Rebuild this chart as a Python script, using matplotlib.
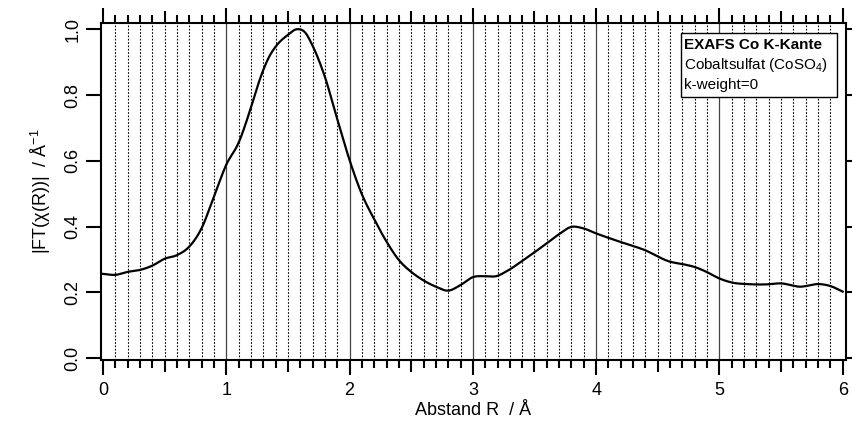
import numpy as np
import matplotlib.pyplot as plt
from matplotlib.patches import Rectangle
from matplotlib.ticker import MultipleLocator, FixedLocator

plt.rcParams['font.family'] = ['Liberation Sans', 'DejaVu Sans']
plt.rcParams['mathtext.fontset'] = 'custom'
plt.rcParams['mathtext.rm'] = 'Liberation Sans'
plt.rcParams['mathtext.it'] = 'Liberation Sans:italic'

# Data
R = [0.0, 0.1, 0.2, 0.3, 0.4, 0.5, 0.6, 0.7, 0.8, 0.9, 1.0, 1.1, 1.2, 1.25,
     1.3, 1.35, 1.4, 1.5, 1.57, 1.64, 1.7, 1.8, 1.9, 2.0, 2.1, 2.2, 2.3,
     2.4, 2.5, 2.6, 2.7, 2.8, 2.9, 3.0, 3.1, 3.19, 3.27, 3.41, 3.6, 3.7,
     3.8, 3.89, 4.0, 4.19, 4.39, 4.6, 4.71, 4.79, 4.89, 5.0, 5.11, 5.22,
     5.38, 5.5, 5.65, 5.81, 5.9, 6.0]
FT = [0.256, 0.253, 0.262, 0.268, 0.281, 0.302, 0.313, 0.339, 0.395, 0.491,
      0.588, 0.655, 0.762, 0.823, 0.876, 0.918, 0.947, 0.983, 1.000, 0.990,
      0.950, 0.855, 0.727, 0.602, 0.498, 0.422, 0.354, 0.298, 0.262, 0.236,
      0.217, 0.205, 0.222, 0.246, 0.249, 0.249, 0.263, 0.298, 0.349, 0.377,
      0.399, 0.395, 0.379, 0.354, 0.329, 0.293, 0.285, 0.278, 0.263, 0.242,
      0.229, 0.225, 0.224, 0.227, 0.217, 0.225, 0.219, 0.202]

legend_lines = ["EXAFS Co K-Kante", "Cobaltsulfat (CoSO$_4$)", "k-weight=0"]


def hermite(x, y, xs):
    # cubic Hermite through the read points, smooth drawing only
    x = np.asarray(x, float)
    y = np.asarray(y, float)
    m = np.gradient(y, x)
    i = np.clip(np.searchsorted(x, xs) - 1, 0, len(x) - 2)
    h = x[i + 1] - x[i]
    t = (xs - x[i]) / h
    h00 = 2 * t**3 - 3 * t**2 + 1
    h10 = t**3 - 2 * t**2 + t
    h01 = -2 * t**3 + 3 * t**2
    h11 = t**3 - t**2
    return h00 * y[i] + h10 * h * m[i] + h01 * y[i + 1] + h11 * h * m[i + 1]


xs = np.linspace(0, 6, 1201)
ys = hermite(R, FT, xs)

fig = plt.figure(figsize=(8.53, 4.34), dpi=100)
ax = fig.add_axes([0.118, 0.1705, 0.8734, 0.7772])

ax.set_xlim(-0.019, 6.024)
ax.set_ylim(-0.006, 1.02)

# vertical grid lines
for v in np.arange(0.1, 6.0, 0.1):
    if abs(v - round(v)) < 1e-6:
        ax.axvline(v, color='#444444', lw=0.9, zorder=1)
    else:
        ax.axvline(v, color='black', lw=0.8, ls=(0, (1.5, 1.5)), zorder=1)

ax.plot(xs, ys, color='black', lw=1.6, zorder=3)

for s in ax.spines.values():
    s.set_linewidth(1.5)

ax.xaxis.set_major_locator(MultipleLocator(1))
ax.xaxis.set_minor_locator(FixedLocator([v for v in np.arange(0, 6.01, 0.1)
                                         if abs(v * 2 - round(v * 2)) > 1e-6]))
ax.tick_params(axis='x', which='major', direction='out', length=11, width=1.5,
               top=True, labelsize=13, pad=5)
ax.tick_params(axis='x', which='minor', direction='out', length=6, width=1.5, top=True)
ax.tick_params(axis='y', which='major', direction='out', length=11, width=1.5,
               right=True, labelsize=13, pad=3)
ax.set_yticks([0.0, 0.2, 0.4, 0.6, 0.8, 1.0])
ax.set_yticklabels(['0.0', '0.2', '0.4', '0.6', '0.8', '1.0'], rotation=90, va='center')

# half-unit ticks (medium length) on top and bottom
for side in ['bottom', 'top']:
    sec = ax.secondary_xaxis(side)
    sec.set_xticks(np.arange(0.5, 6.0, 1.0))
    sec.tick_params(direction='out', length=8.5, width=1.5, labelbottom=False,
                    labeltop=False)
    sec.spines[side].set_visible(False)
    sec.set_xticklabels([])

ax.set_xlabel('Abstand R  / Å', fontsize=13, labelpad=2)
ax.set_ylabel('|FT(χ(R))|  / Å$^{-1}$', fontsize=13, labelpad=8)

# legend box
ax.add_patch(Rectangle((0.779, 0.781), 0.209, 0.189, transform=ax.transAxes,
                       facecolor='white', edgecolor='black', lw=1.0, zorder=5))
ax.text(0.783, 0.922, legend_lines[0], transform=ax.transAxes, fontsize=11,
        fontweight='bold', zorder=6)
ax.text(0.783, 0.862, legend_lines[1], transform=ax.transAxes, fontsize=11, zorder=6)
ax.text(0.783, 0.802, legend_lines[2], transform=ax.transAxes, fontsize=11, zorder=6)

fig.savefig('out.png', dpi=100)
